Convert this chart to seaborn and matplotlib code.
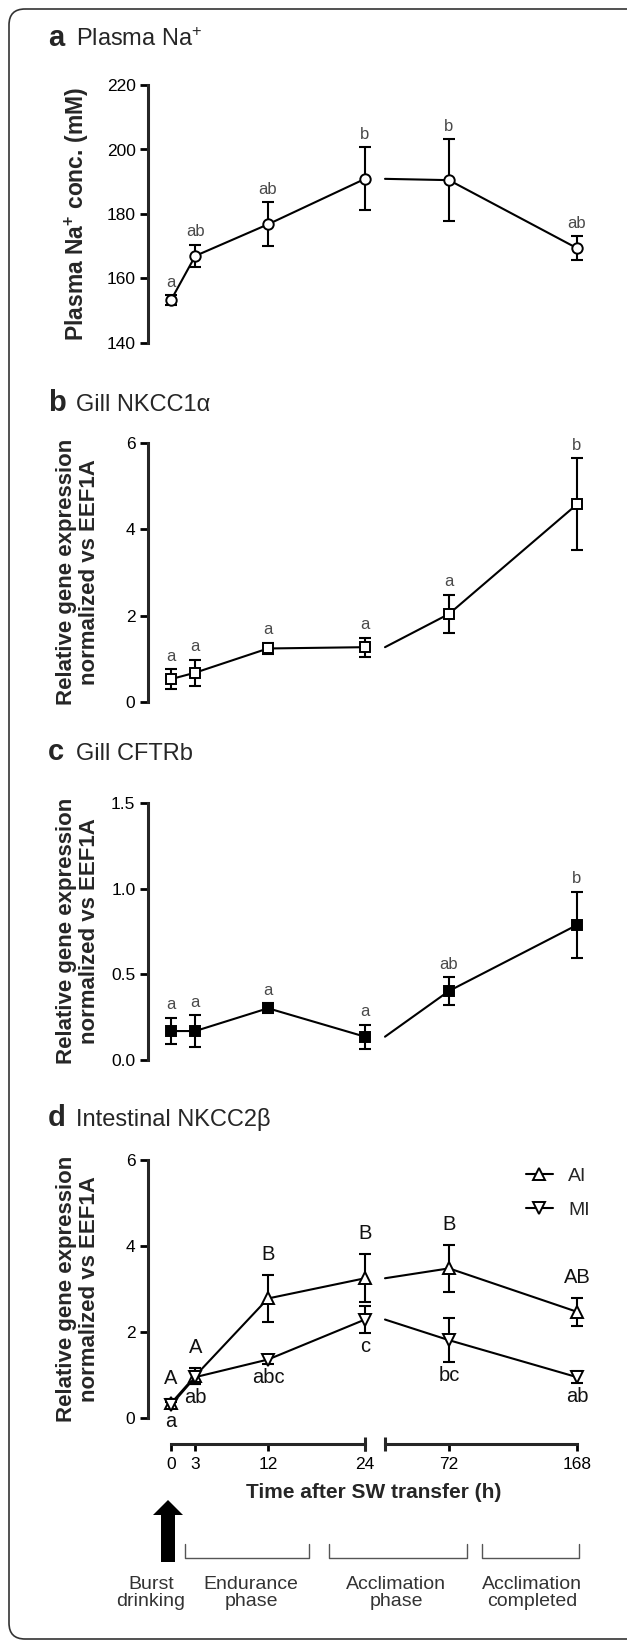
import matplotlib.pyplot as plt
from matplotlib.lines import Line2D
from matplotlib.patches import FancyArrow, FancyBboxPatch
import seaborn as sns

W, H = 627, 1642

# Data (mean +/- SEM)
hours = [0, 3, 12, 24, 72, 168]
x_ticks_early = [0, 3, 12, 24]
x_ticks_late = [72, 168]

na_mean = [153.3, 167.0, 176.8, 190.9, 190.5, 169.4]
na_sem = [1.5, 3.5, 6.8, 9.8, 12.7, 3.7]
na_letters = ['a', 'ab', 'ab', 'b', 'b', 'ab']

nkcc1_mean = [0.53, 0.68, 1.24, 1.27, 2.04, 4.58]
nkcc1_sem = [0.23, 0.30, 0.13, 0.22, 0.45, 1.07]
nkcc1_letters = ['a', 'a', 'a', 'a', 'a', 'b']

cftr_mean = [0.169, 0.169, 0.302, 0.136, 0.403, 0.788]
cftr_sem = [0.078, 0.092, 0.03, 0.071, 0.08, 0.195]
cftr_letters = ['a', 'a', 'a', 'a', 'ab', 'b']

ai_mean = [0.34, 0.98, 2.78, 3.25, 3.48, 2.47]
ai_sem = [0.10, 0.19, 0.55, 0.56, 0.55, 0.32]
ai_letters = ['A', 'A', 'B', 'B', 'B', 'AB']

mi_mean = [0.30, 0.95, 1.36, 2.29, 1.81, 0.95]
mi_sem = [0.07, 0.15, 0.11, 0.31, 0.51, 0.14]
mi_letters = ['a', 'ab', 'abc', 'c', 'bc', 'ab']

phases = ['Burst\ndrinking', 'Endurance\nphase', 'Acclimation\nphase', 'Acclimation\ncompleted']

# Style
sns.set_style('ticks')
plt.rcParams['font.family'] = ['Liberation Sans', 'DejaVu Sans']
plt.rcParams['mathtext.fontset'] = 'custom'
plt.rcParams['mathtext.rm'] = 'Liberation Sans'
plt.rcParams['mathtext.bf'] = 'Liberation Sans:bold'
plt.rcParams['mathtext.it'] = 'Liberation Sans:italic'

fig = plt.figure(figsize=(W / 100, H / 100), dpi=100)

# overlay in pixel coordinates for titles, labels and the phase annotations
ov = fig.add_axes([0, 0, 1, 1])
ov.set_xlim(0, W)
ov.set_ylim(H, 0)
ov.axis('off')

ov.add_patch(FancyBboxPatch((9, 9), 640, 1630, boxstyle='round,pad=0,rounding_size=16',
                            fc='none', ec='#333333', lw=1.2))


def make_pair(ytop, ybot, yticks, ticklabels):
    b = 1 - ybot / H
    h = (ybot - ytop) / H
    a1 = fig.add_axes([171 / W, b, 194 / W, h])
    a2 = fig.add_axes([385 / W, b, 192 / W, h])
    for ax in (a1, a2):
        ax.set_facecolor('none')
        for s in ax.spines.values():
            s.set_visible(False)
        ax.set_xticks([])
    a1.set_xlim(0, 24)
    a2.set_xlim(24, 168)
    a1.spines['left'].set_visible(True)
    a1.spines['left'].set_position(('outward', 23 * 0.72))
    a1.spines['left'].set_linewidth(2.2)
    a1.set_yticks(yticks)
    a1.set_yticklabels(ticklabels)
    a1.tick_params(axis='y', length=5.5, width=2.0, pad=3.5, labelsize=12.5, colors='k')
    a1.set_ylim(yticks[0], yticks[-1])
    a2.set_ylim(yticks[0], yticks[-1])
    a2.set_yticks([])
    return a1, a2


def draw(pair, mean, sem, marker, ms, face):
    a1, a2 = pair
    style = dict(color='k', linewidth=1.5, marker=marker, markersize=ms,
                 markerfacecolor=face, markeredgecolor='k', markeredgewidth=1.4,
                 clip_on=False, zorder=3)
    # first (0-24 h) segment
    x1, y1, e1 = hours[:4], mean[:4], sem[:4]
    a1.errorbar(x1, y1, yerr=e1, fmt='none', ecolor='k', elinewidth=1.5,
                capsize=4, capthick=1.5, clip_on=False, zorder=2)
    sns.lineplot(x=x1, y=y1, ax=a1, errorbar=None, **style)
    # second (24-168 h) segment: line starts at the break
    sns.lineplot(x=hours[3:], y=mean[3:], ax=a2, errorbar=None, color='k',
                 linewidth=1.5, clip_on=False, zorder=2)
    x2, y2, e2 = hours[4:], mean[4:], sem[4:]
    a2.errorbar(x2, y2, yerr=e2, fmt='none', ecolor='k', elinewidth=1.5,
                capsize=4, capthick=1.5, clip_on=False, zorder=2)
    style['linestyle'] = 'none'
    sns.lineplot(x=x2, y=y2, ax=a2, errorbar=None, **style)
    for ax in (a1, a2):
        ax.set_xlabel('')
        ax.set_ylabel('')


def letters(pair, mean, sem, labs, above=True, size=12, color='#4a4a4a', off=4):
    for x, y, e, t in zip(hours, mean, sem, labs):
        ax = pair[0] if x <= 24 else pair[1]
        if above:
            ax.annotate(t, (x, y + e), xytext=(0, off), textcoords='offset points',
                        ha='center', va='bottom', fontsize=size, color=color,
                        annotation_clip=False)
        else:
            ax.annotate(t, (x, y - e), xytext=(0, -off), textcoords='offset points',
                        ha='center', va='top', fontsize=size, color=color,
                        annotation_clip=False)


# a Plasma Na+
pa = make_pair(85, 343, [140, 160, 180, 200, 220], ['140', '160', '180', '200', '220'])
draw(pa, na_mean, na_sem, 'o', 7.5, 'white')
letters(pa, na_mean, na_sem, na_letters)

# b Gill NKCC1a
pb = make_pair(443, 702, [0, 2, 4, 6], ['0', '2', '4', '6'])
draw(pb, nkcc1_mean, nkcc1_sem, 's', 7, 'white')
letters(pb, nkcc1_mean, nkcc1_sem, nkcc1_letters)

# c Gill CFTRb
pc = make_pair(803, 1060, [0, 0.5, 1.0, 1.5], ['0.0', '0.5', '1.0', '1.5'])
draw(pc, cftr_mean, cftr_sem, 's', 7.5, 'black')
letters(pc, cftr_mean, cftr_sem, cftr_letters)

# d Intestinal NKCC2b
pd_ = make_pair(1160, 1418, [0, 2, 4, 6], ['0', '2', '4', '6'])
draw(pd_, ai_mean, ai_sem, '^', 8.5, 'white')
draw(pd_, mi_mean, mi_sem, 'v', 8.5, 'white')
letters(pd_, ai_mean, ai_sem, ai_letters, above=True, size=14.5, color='#111111', off=8)
letters(pd_, mi_mean, mi_sem, mi_letters, above=False, size=14.5, color='#111111', off=3)

d1, d2 = pd_
for ax, ticks in ((d1, x_ticks_early), (d2, x_ticks_late)):
    ax.xaxis.remove_overlapping_locs = False
    ax.spines['bottom'].set_visible(True)
    ax.spines['bottom'].set_position(('outward', 26 * 0.72))
    ax.spines['bottom'].set_linewidth(2.2)
    ax.set_xticks(ticks)
    ax.set_xticklabels([str(t) for t in ticks])
    ax.set_xticks([24], minor=True)
    ax.tick_params(axis='x', which='major', length=5, width=2.0, pad=4.5, labelsize=12.5, colors='k')
    ax.tick_params(axis='x', which='minor', direction='inout', length=10, width=2.2)

ov.legend([Line2D([], [], color='k', lw=1.5, marker='^', ms=8.5, mfc='white', mec='k', mew=1.4),
           Line2D([], [], color='k', lw=1.5, marker='v', ms=8.5, mfc='white', mec='k', mew=1.4)],
          ['AI', 'MI'], loc='upper right', bbox_to_anchor=(590, 1167),
          bbox_transform=ov.transData, frameon=False, fontsize=14, handlelength=1.4,
          handletextpad=0.8, labelspacing=0.85, borderpad=0, borderaxespad=0)

# panel titles
titles = [('a', 'Plasma Na$^{+}$', 46), ('b', 'Gill NKCC1α', 411),
          ('c', 'Gill CFTRb', 760), ('d', 'Intestinal NKCC2β', 1126)]
for letter, name, yb in titles:
    ov.text(48, yb, letter, fontweight='bold', fontsize=21, va='baseline', ha='left')
    ov.text(76, yb, name, fontsize=17, va='baseline', ha='left')

# y labels
ylab2 = 'Relative gene expression\nnormalized vs EEF1A'
ov.text(77, 214, 'Plasma Na$^{\\mathbf{+}}$ conc. (mM)', fontweight='bold',
        fontsize=16.5, rotation=90, ha='center', va='center')
for yc in (572, 931, 1289):
    ov.text(78, yc, ylab2, fontweight='bold', fontsize=16, rotation=90,
            ha='center', va='center', multialignment='center', linespacing=1.08)

# x label
ov.text(374, 1492, 'Time after SW transfer (h)', fontweight='bold',
        fontsize=15, ha='center', va='center')

# phase annotations
ov.add_patch(FancyArrow(168, 1562, 0, -62, width=14, head_width=30, head_length=15,
                        length_includes_head=True, color='k', lw=0))
for x0, x1 in ((185, 309), (329, 467), (482, 579)):
    ov.plot([x0, x0, x1, x1], [1544, 1558, 1558, 1544], color='#555555', lw=1.0)
for xc, txt in zip((151, 251, 396, 532), phases):
    ov.text(xc, 1593, txt, fontsize=14, color='#333333', ha='center', va='center',
            multialignment='center', linespacing=0.95)

fig.savefig('out.png', dpi=100)
